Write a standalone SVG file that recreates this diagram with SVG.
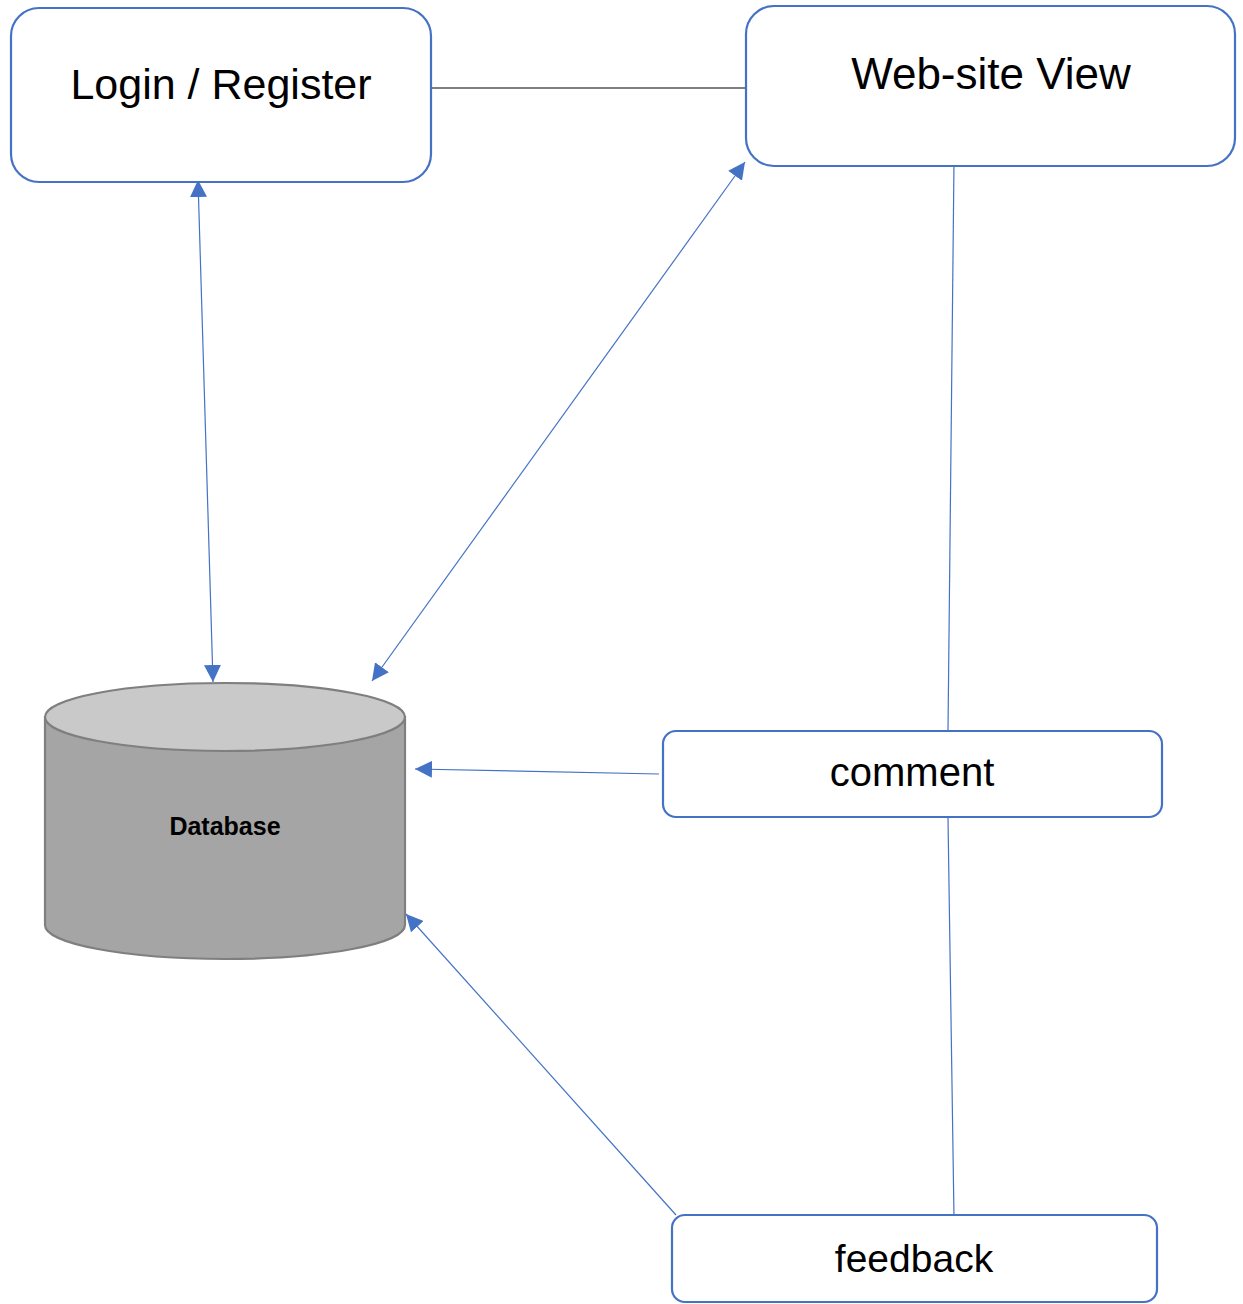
<svg xmlns="http://www.w3.org/2000/svg" width="1243" height="1304" viewBox="0 0 1243 1304">
<style>
.box{fill:#fff;stroke:#4472C4;stroke-width:2.2}
.lbl{font-family:"Liberation Sans",Arial,sans-serif;fill:#000;text-anchor:middle}
.conn{stroke:#4472C4;stroke-width:1.2;fill:none}
</style>
<defs>
<marker id="ah" markerUnits="userSpaceOnUse" markerWidth="17" markerHeight="17" refX="16" refY="8" orient="auto-start-reverse" viewBox="0 0 16 16">
<path d="M0,0 L16,8 L0,16 z" fill="#4472C4"/>
</marker>
</defs>
<rect width="1243" height="1304" fill="#fff"/>
<g id="connectors">
<line x1="431" y1="88" x2="746" y2="88" stroke="#000" stroke-width="1.2"/>
<line class="conn" x1="198" y1="180" x2="213" y2="682" marker-start="url(#ah)" marker-end="url(#ah)"/>
<line class="conn" x1="745" y1="162" x2="372" y2="681" marker-start="url(#ah)" marker-end="url(#ah)"/>
<line class="conn" x1="954" y1="162" x2="948" y2="731"/>
<line class="conn" x1="659" y1="774" x2="415" y2="769" marker-end="url(#ah)"/>
<line class="conn" x1="948" y1="818" x2="954" y2="1218"/>
<line class="conn" x1="676" y1="1215" x2="406" y2="914" marker-end="url(#ah)"/>
</g>
<g id="login">
<rect class="box" x="11" y="8" width="420" height="174" rx="28"/>
<text class="lbl" x="221" y="99" font-size="43">Login / Register</text>
</g>
<g id="website">
<rect class="box" x="746" y="6" width="489" height="160" rx="28"/>
<text class="lbl" x="991" y="89" font-size="44">Web-site View</text>
</g>
<g id="database">
<path d="M45,717 L45,925 A180,34 0 0 0 405,925 L405,717 Z" fill="#A5A5A5" stroke="#7F7F7F" stroke-width="2.2"/>
<ellipse cx="225" cy="717" rx="180" ry="34" fill="#C9C9C9" stroke="#7F7F7F" stroke-width="2.2"/>
<text class="lbl" x="225" y="835" font-size="25" font-weight="bold">Database</text>
</g>
<g id="comment">
<rect class="box" x="663" y="731" width="499" height="86" rx="13"/>
<text class="lbl" x="912" y="786" font-size="40">comment</text>
</g>
<g id="feedback">
<rect class="box" x="672" y="1215" width="485" height="87" rx="13"/>
<text class="lbl" x="914" y="1272" font-size="39">feedback</text>
</g>
</svg>
